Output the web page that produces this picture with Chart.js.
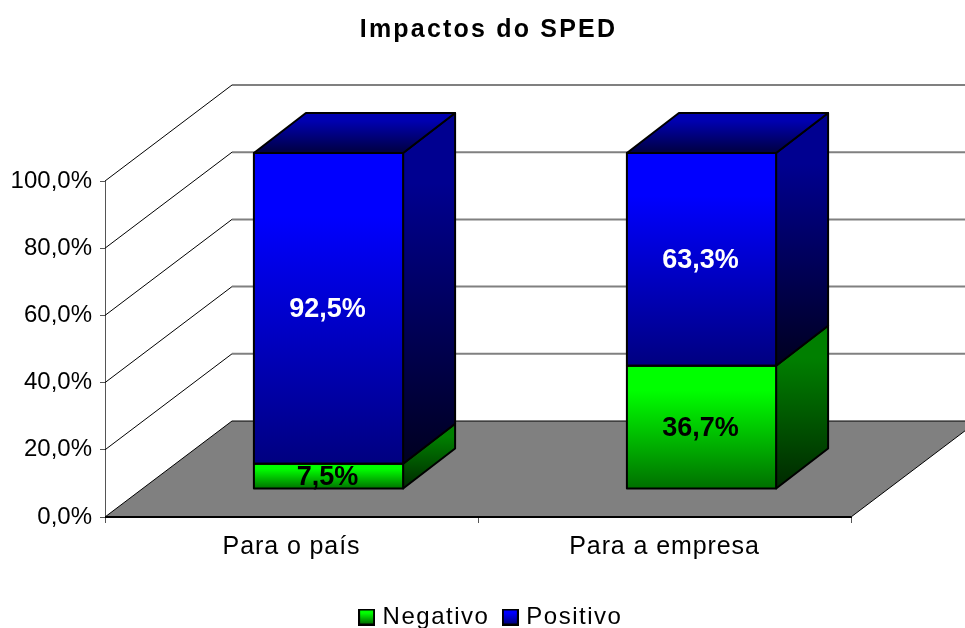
<!DOCTYPE html>
<html>
<head>
<meta charset="utf-8">
<title>Impactos do SPED</title>
<style>
  html, body { margin: 0; padding: 0; background: #fff; }
  canvas { display: block; }
</style>
<script src="https://cdn.jsdelivr.net/npm/chart.js@4/dist/chart.umd.min.js"></script>
</head>
<body>
<canvas id="chart" width="965" height="628"></canvas>
<script>
const categories = ["Para o país", "Para a empresa"];
const negativo = [7.5, 36.7];
const positivo = [92.5, 63.3];
const seriesNames = ["Negativo", "Positivo"];
const labelColors = ["#000000", "#ffffff"];

// fake 3D projection, in pixels
const WALL = { dx: 127, dy: -96 };
const BAR_FRONT = { dx: 37, dy: -28 };
const BAR_DEPTH = { dx: 52, dy: -40 };

const FRONT_COLORS = [["#00ff00", "#006f00"], ["#0000ff", "#000080"]];
const SIDE_COLORS = [["#007f00", "#002800"], ["#000090", "#000020"]];
const TOP_COLORS = [["#00b000", "#004000"], ["#0000b0", "#000040"]];

const font = "'Liberation Sans', Arial, sans-serif";

function gradient(ctx, y0, y1, colors) {
  const g = ctx.createLinearGradient(0, y0, 0, y1);
  g.addColorStop(0, colors[0]);
  g.addColorStop(0.2, colors[0]);
  g.addColorStop(1, colors[1]);
  return g;
}

function poly(ctx, pts, fill, stroke, width) {
  ctx.beginPath();
  pts.forEach((p, i) => i ? ctx.lineTo(p[0], p[1]) : ctx.moveTo(p[0], p[1]));
  ctx.closePath();
  ctx.lineJoin = "round";
  if (fill) { ctx.fillStyle = fill; ctx.fill(); }
  if (stroke) { ctx.strokeStyle = stroke; ctx.lineWidth = width; ctx.stroke(); }
}

// small legend swatch with the same gradient as the bars
function swatch(colors) {
  const c = document.createElement("canvas");
  c.width = 17;
  c.height = 17;
  const x = c.getContext("2d");
  x.fillStyle = "#000";
  x.fillRect(0, 0, 17, 17);
  x.fillStyle = gradient(x, 2, 15, colors);
  x.fillRect(2, 2, 13, 13);
  return c;
}

// Chart.js has no letter spacing option, so wrap the draw call
function spaced(obj, method, ctx, px) {
  const original = obj[method];
  obj[method] = function () {
    ctx.letterSpacing = px;
    original.apply(this, arguments);
    ctx.letterSpacing = "0px";
  };
}

const scene3d = {
  id: "scene3d",
  beforeLayout(chart) {
    chart.ctx.letterSpacing = "1.5px";
  },
  afterLayout(chart) {
    chart.ctx.letterSpacing = "0px";
    // title and legend are centred on the whole picture, not on the plot
    chart.titleBlock.left += 63;
    chart.titleBlock.right += 63;
    chart.legend.left += 67;
    chart.legend.right += 67;
    chart.legend.top += 11;
    chart.legend.bottom += 11;
    if (!chart.$spaced) {
      chart.$spaced = true;
      spaced(chart.titleBlock, "draw", chart.ctx, "2.2px");
      spaced(chart.legend, "draw", chart.ctx, "1.5px");
      spaced(chart.scales.x, "drawLabels", chart.ctx, "0.9px");
    }
  },
  beforeDatasetsDraw(chart) {
    const ctx = chart.ctx;
    const { x, y } = chart.scales;
    const left = x.left, right = x.right, base = y.getPixelForValue(0);

    // walls
    y.ticks.forEach(t => {
      const py = y.getPixelForValue(t.value);
      if (t.value === 0) return;
      ctx.beginPath();
      ctx.moveTo(left, py);
      ctx.lineTo(left + WALL.dx, py + WALL.dy);
      ctx.strokeStyle = "#000";
      ctx.lineWidth = 1;
      ctx.stroke();
      ctx.beginPath();
      ctx.moveTo(left + WALL.dx, py + WALL.dy);
      ctx.lineTo(right + WALL.dx, py + WALL.dy);
      ctx.strokeStyle = "#808080";
      ctx.lineWidth = 2;
      ctx.stroke();
    });

    // floor
    poly(ctx, [
      [left, base],
      [left + WALL.dx, base + WALL.dy],
      [right + WALL.dx, base + WALL.dy],
      [right, base]
    ], "#808080", "#000", 1);
    ctx.beginPath();
    ctx.moveTo(left, base);
    ctx.lineTo(right, base);
    ctx.strokeStyle = "#000";
    ctx.lineWidth = 2;
    ctx.stroke();

    // side and top faces of the bars
    chart.data.datasets.forEach((ds, d) => {
      chart.getDatasetMeta(d).data.forEach(bar => {
        const r = bar.x + bar.width / 2 + BAR_FRONT.dx;
        const l = bar.x - bar.width / 2 + BAR_FRONT.dx;
        const t = bar.y + BAR_FRONT.dy;
        const b = bar.base + BAR_FRONT.dy;
        poly(ctx, [
          [r, t],
          [r + BAR_DEPTH.dx, t + BAR_DEPTH.dy],
          [r + BAR_DEPTH.dx, b + BAR_DEPTH.dy],
          [r, b]
        ], gradient(ctx, t + BAR_DEPTH.dy, b, SIDE_COLORS[d]), "#000", 2);
        if (d === chart.data.datasets.length - 1) {
          poly(ctx, [
            [l, t],
            [l + BAR_DEPTH.dx, t + BAR_DEPTH.dy],
            [r + BAR_DEPTH.dx, t + BAR_DEPTH.dy],
            [r, t]
          ], gradient(ctx, t + BAR_DEPTH.dy, t, TOP_COLORS[d]), "#000", 2);
        }
      });
    });

    // the library draws the front faces, moved back onto the floor
    ctx.save();
    ctx.translate(BAR_FRONT.dx, BAR_FRONT.dy);
  },
  afterDatasetsDraw(chart) {
    const ctx = chart.ctx;
    ctx.restore();

    // outlines of the front faces
    chart.data.datasets.forEach((ds, d) => {
      chart.getDatasetMeta(d).data.forEach(bar => {
        const r = bar.x + bar.width / 2 + BAR_FRONT.dx;
        const l = bar.x - bar.width / 2 + BAR_FRONT.dx;
        const t = bar.y + BAR_FRONT.dy;
        const b = bar.base + BAR_FRONT.dy;
        poly(ctx, [[l, t], [r, t], [r, b], [l, b]], null, "#000", 2);
      });
    });

    // value labels
    ctx.font = "bold 27px " + font;
    ctx.textAlign = "center";
    ctx.textBaseline = "middle";
    chart.data.datasets.forEach((ds, d) => {
      chart.getDatasetMeta(d).data.forEach((bar, i) => {
        ctx.fillStyle = labelColors[d];
        ctx.fillText(
          ds.data[i].toFixed(1).replace(".", ",") + "%",
          bar.x + BAR_FRONT.dx - 1,
          (bar.y + bar.base) / 2 + BAR_FRONT.dy + 1
        );
      });
    });
  }
};

function dataset(name, values, d) {
  return {
    label: name,
    data: values,
    backgroundColor(c) {
      const { chart, dataIndex } = c;
      if (!chart.chartArea || dataIndex === undefined) return FRONT_COLORS[d][0];
      const y = chart.scales.y;
      const below = d === 0 ? 0 : negativo[dataIndex];
      return gradient(chart.ctx,
        y.getPixelForValue(below + values[dataIndex]),
        y.getPixelForValue(below),
        FRONT_COLORS[d]);
    },
    borderWidth: 0,
    inflateAmount: 0,
    categoryPercentage: 1,
    barPercentage: 0.4,
    clip: false
  };
}

new Chart(document.getElementById("chart"), {
  type: "bar",
  data: {
    labels: categories,
    datasets: [
      dataset(seriesNames[0], negativo, 0),
      dataset(seriesNames[1], positivo, 1)
    ]
  },
  options: {
    responsive: false,
    animation: false,
    layout: { padding: { left: 0, right: 114, top: 0, bottom: 0 } },
    scales: {
      x: {
        stacked: true,
        afterFit(scale) { scale.height = 60; },
        grid: { drawOnChartArea: false, tickLength: 6, color: "#555555" },
        border: { color: "#000000", width: 1 },
        ticks: { color: "#000", font: { family: font, size: 25 }, maxRotation: 0, autoSkip: false, padding: 9 }
      },
      y: {
        stacked: true,
        min: 0,
        max: 100,
        afterFit(scale) { scale.width = 105; },
        grid: { drawOnChartArea: false, tickLength: 5, color: "#555555" },
        border: { color: "#555555", width: 1 },
        ticks: {
          stepSize: 20,
          color: "#000",
          font: { family: font, size: 24 },
          padding: 8,
          callback: v => v.toFixed(1).replace(".", ",") + "%"
        }
      }
    },
    plugins: {
      tooltip: { enabled: false },
      title: {
        display: true,
        text: "Impactos do SPED",
        color: "#000",
        font: { family: font, size: 25, weight: "bold" },
        padding: { top: 15, bottom: 136 }
      },
      legend: {
        display: true,
        position: "bottom",
        labels: {
          color: "#000",
          font: { family: font, size: 24 },
          usePointStyle: true,
          pointStyleWidth: 8,
          boxHeight: 8,
          padding: 17,
          generateLabels(chart) {
            return chart.data.datasets.map((ds, d) => ({
              text: ds.label,
              datasetIndex: d,
              pointStyle: swatch(FRONT_COLORS[d]),
              lineWidth: 0,
              fontColor: "#000"
            }));
          }
        }
      }
    }
  },
  plugins: [scene3d]
});
</script>
</body>
</html>
